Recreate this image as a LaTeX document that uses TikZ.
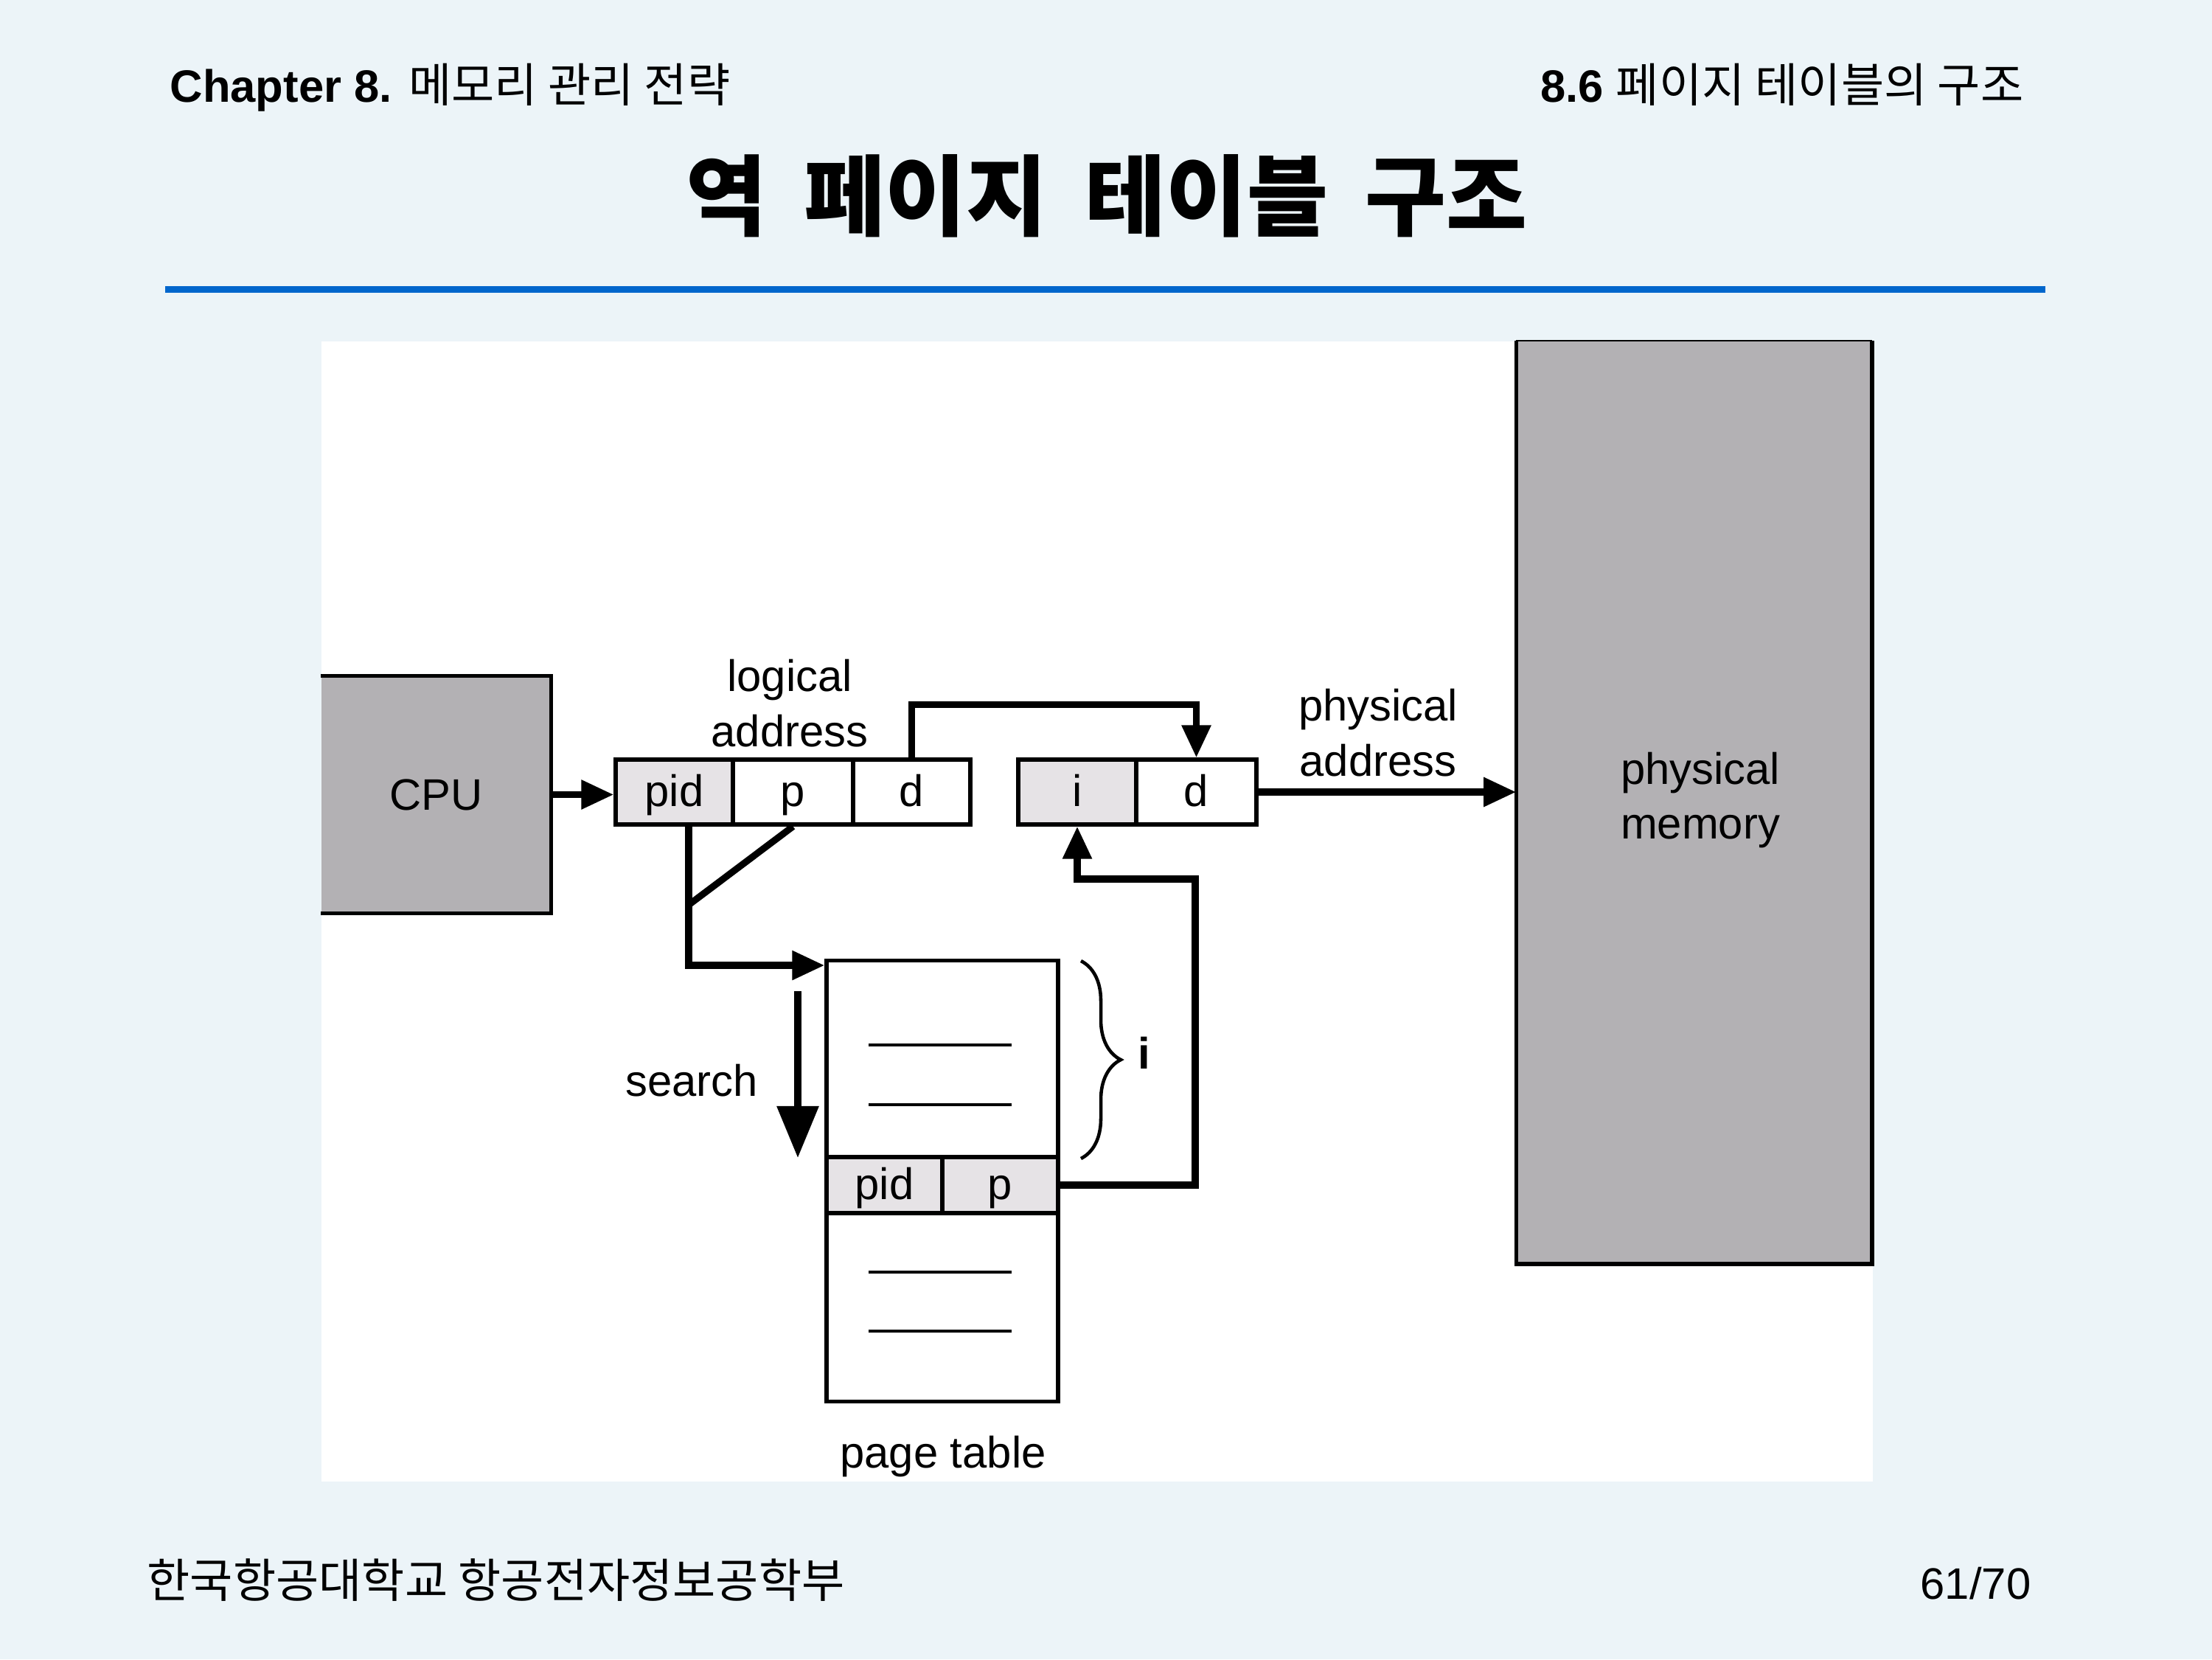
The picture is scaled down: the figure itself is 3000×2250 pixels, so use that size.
\documentclass[tikz,border=0pt]{standalone}
\usepackage{fontspec}
\setmainfont{Liberation Sans}
\newfontfamily\kr{Noto Sans CJK KR}
\usetikzlibrary{arrows.meta,decorations.pathreplacing,calc}
\definecolor{bgc}{RGB}{236,244,248}
\definecolor{bluel}{RGB}{0,102,204}
\definecolor{grayf}{RGB}{179,177,180}
\definecolor{litef}{RGB}{230,227,230}
\begin{document}
\begin{tikzpicture}[x=0.01cm,y=-0.01cm,
  lbl/.style={font=\fontsize{17}{20}\selectfont, inner sep=0pt, anchor=base},
  cell/.style={draw, line width=1.5pt, minimum height=0.88cm, inner sep=0pt,
    font=\fontsize{17}{20}\selectfont, text height=14pt, text depth=3.2pt},
  border/.style={line width=1.5pt},
  wire/.style={line width=2.6pt},
  arr/.style={wire, -{Triangle[length=0.44cm,width=0.38cm]}},
  bigarr/.style={wire, -{Triangle[length=0.70cm,width=0.55cm]}},
  sepline/.style={line width=1.1pt}]
\fill[bgc] (0,0) rectangle (3000,2250);
\useasboundingbox (0,0) rectangle (3000,2250);
% header
\node[anchor=base west, inner sep=0pt] (hl) at (230,138)
  {\fontsize{17.5}{20}\selectfont\bfseries Chapter 8. \kr\mdseries\fontsize{18}{20}\selectfont 메모리 관리 전략};
\node[anchor=base east, inner sep=0pt] (hr) at (2745,138)
  {\fontsize{17.5}{20}\selectfont\bfseries 8.6 \kr\mdseries\fontsize{18}{20}\selectfont 페이지 테이블의 구조};
\node[anchor=base, inner sep=0pt] (title) at (1501,310)
  {\kr\bfseries\fontsize{34}{40}\selectfont 역\hspace{0.42em}페이지\hspace{0.42em}테이블\hspace{0.42em}구조};
\fill[bluel] (224,388) rectangle (2774,397);
% footer
\node[anchor=base west, inner sep=0pt] (fl) at (199,2166)
  {\kr\fontsize{18}{20}\selectfont 한국항공대학교 항공전자정보공학부};
\node[anchor=base east, inner sep=0pt] (fr) at (2755,2168)
  {\fontsize{17}{20}\selectfont 61/70};
% diagram area
\fill[white] (436,463) rectangle (2540,2009);
% CPU
\node[fill=grayf, minimum width=3.11cm, minimum height=3.21cm, inner sep=0pt,
  font=\fontsize{17}{20}\selectfont] (cpu) at (591.5,1077.5) {CPU};
\draw[border] (cpu.north west) -- (cpu.north east) -- (cpu.south east) -- (cpu.south west);
% memory
\node[fill=grayf, minimum width=4.81cm, minimum height=12.5cm, inner sep=0pt] (mem) at (2297.5,1088) {};
\draw[border] (mem.north west) -- (mem.south west) -- (mem.south east) -- (mem.north east);
\draw[line width=0.5pt] (mem.north west) -- (mem.north east);
% logical address
\node[cell, fill=litef, minimum width=1.59cm] (lpid) at (914.5,1074) {pid};
\node[cell, fill=white, minimum width=1.63cm] (lp) at (1075.5,1074) {p};
\node[cell, fill=white, minimum width=1.59cm] (ld) at (1236.5,1074) {d};
% physical address
\node[cell, fill=litef, minimum width=1.60cm] (pi) at (1461,1074) {i};
\node[cell, fill=white, minimum width=1.63cm] (pd) at (1622.5,1074) {d};
% page table
\node[draw, border, fill=white, minimum width=3.14cm, minimum height=5.97cm, inner sep=0pt] (ptab) at (1278,1601.5) {};
\node[cell, fill=litef, minimum width=1.57cm, minimum height=0.76cm] (rpid) at (1199.5,1607) {pid};
\node[cell, fill=litef, minimum width=1.57cm, minimum height=0.76cm] (rp) at (1356.5,1607) {p};
\foreach \yy in {1417,1498,1725,1805} \draw[sepline] (1178,\yy) -- (1372,\yy);
% connectors
\draw[arr] (cpu.east) -- (cpu.east -| lpid.west);
\draw[arr] (ld.north) -- ++(0,-72) -| (pd.north);
\coordinate (j) at (934,1309);
\coordinate (dj) at (934,1227);
\draw[arr] (j |- lpid.south) -- (j) -- (j -| ptab.west);
\draw[wire] (lp.south) -- (dj);
\coordinate (s1) at (1082,1344);
\coordinate (s2) at (1082,1570);
\draw[bigarr] (s1) -- (s2);
\draw[arr] (pd.east) -- (pd.east -| mem.west);
\coordinate (rt) at (1621,1192);
\draw[arr] (rp.east) -| (rt) -| (pi.south);
\draw[line width=1.3pt, decorate, decoration={brace, amplitude=0.54cm}] (1466,1303) -- (1466,1571);
% labels
\node[lbl] (tla) at (1071,937) {logical};
\node[lbl] (tlb) at (1071,1012) {address};
\node[lbl] (tpa) at (1869,977) {physical};
\node[lbl] (tpb) at (1869,1052) {address};
\node[lbl] (tma) at (2306,1063) {physical};
\node[lbl] (tmb) at (2306,1137) {memory};
\node[lbl] (tsr) at (938,1486) {search};
\node[lbl, font=\fontsize{17}{20}\selectfont\bfseries] (ti) at (1552,1449) {i};
\node[lbl] (tpt) at (1279,1990) {page table};
\end{tikzpicture}
\end{document}
